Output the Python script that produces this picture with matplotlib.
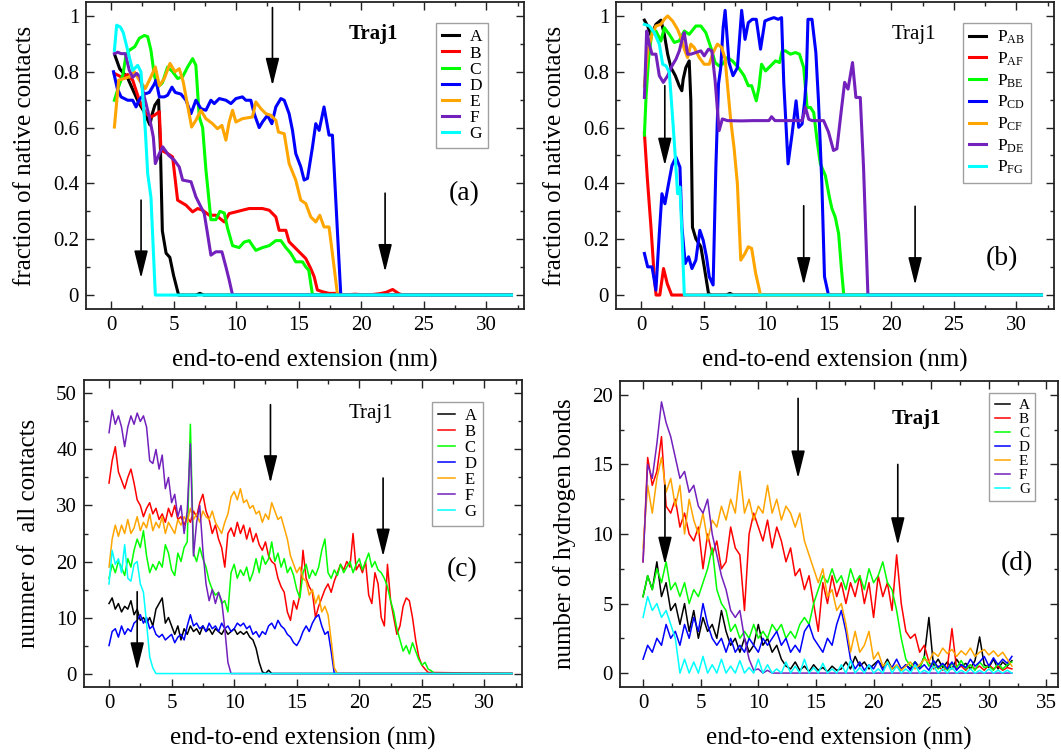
import numpy as np
import matplotlib
matplotlib.use('Agg')
import matplotlib.pyplot as plt
from matplotlib.ticker import MultipleLocator, FuncFormatter

plt.rcParams['font.family'] = ['Liberation Serif', 'DejaVu Serif']
plt.rcParams['mathtext.fontset'] = 'custom'
plt.rcParams['mathtext.rm'] = 'Liberation Serif'
plt.rcParams['mathtext.it'] = 'Liberation Serif:italic'

COLORS = ['#000000', '#ff0000', '#00ff00', '#0000ff', '#ffa500', '#7221bc', '#00ffff']
LABELS_SEG = ['A', 'B', 'C', 'D', 'E', 'F', 'G']
LABELS_PAIR = [r'$\mathrm{P_{AB}}$', r'$\mathrm{P_{AF}}$', r'$\mathrm{P_{BE}}$', r'$\mathrm{P_{CD}}$',
               r'$\mathrm{P_{CF}}$', r'$\mathrm{P_{DE}}$', r'$\mathrm{P_{FG}}$']

# ---------------- panel (a): fraction of native contacts per segment ----------------
A_a = [(0.3, 0.86), (0.7, 0.81), (1.3, 0.78), (1.8, 0.73), (2.2, 0.69), (2.6, 0.66), (2.9, 0.63),
       (3.1, 0.61), (3.3, 0.65), (3.5, 0.68), (3.8, 0.70), (3.95, 0.52), (4.1, 0.23), (4.4, 0.15),
       (4.7, 0.135), (5.0, 0.07), (5.4, 0.0), (6.8, 0.0), (7.1, 0.006), (7.4, 0.0), (32, 0.0)]
B_a = [(0.27, 0.794), (0.8, 0.782), (1.33, 0.79), (1.73, 0.77), (2.26, 0.698), (2.79, 0.65),
       (3.19, 0.638), (3.46, 0.644), (3.86, 0.657), (3.99, 0.519), (4.52, 0.507), (4.92, 0.495),
       (5.32, 0.34), (5.99, 0.322), (6.52, 0.298), (6.92, 0.31), (7.32, 0.304), (7.85, 0.286),
       (8.38, 0.286), (9.05, 0.262), (9.44, 0.292), (9.98, 0.298), (10.5, 0.304), (11.04, 0.31),
       (11.57, 0.31), (12.1, 0.31), (12.64, 0.304), (13.17, 0.28), (13.43, 0.232), (13.97, 0.232),
       (14.23, 0.191), (14.76, 0.167), (15.16, 0.149), (15.56, 0.131), (15.96, 0.095), (16.23, 0.066),
       (16.49, 0.018), (16.89, 0.012), (17.42, 0.006), (17.96, 0.006), (18.49, 0.0), (19.5, 0.003),
       (20.5, 0.0), (21.5, 0.005), (22.0, 0.01), (22.5, 0.02), (23.0, 0.005), (23.3, 0.0), (32, 0.0)]
C_a = [(0.27, 0.698), (0.61, 0.747), (0.95, 0.79), (1.2, 0.86), (1.46, 0.877), (1.9, 0.89),
       (2.26, 0.92), (2.66, 0.93), (2.93, 0.926), (3.19, 0.877), (3.46, 0.787), (3.72, 0.745),
       (4.1, 0.76), (4.52, 0.817), (4.92, 0.8), (5.32, 0.776), (5.72, 0.782), (6.12, 0.817),
       (6.52, 0.847), (6.78, 0.823), (7.05, 0.638), (7.32, 0.6), (7.58, 0.45), (7.98, 0.27),
       (8.38, 0.27), (8.7, 0.3), (9.05, 0.294), (9.31, 0.24), (9.71, 0.177), (10.24, 0.17),
       (10.64, 0.19), (11.04, 0.195), (11.57, 0.16), (12.1, 0.17), (12.64, 0.177), (13.17, 0.195),
       (13.57, 0.195), (13.97, 0.17), (14.37, 0.149), (14.76, 0.119), (15.3, 0.119), (15.56, 0.101),
       (15.8, 0.089), (16.1, 0.0), (32, 0.0)]
D_a = [(0.2, 0.80), (0.5, 0.74), (0.8, 0.71), (1.33, 0.698), (1.73, 0.698), (2.0, 0.674), (2.26, 0.70),
       (2.66, 0.72), (3.06, 0.726), (3.46, 0.756), (3.59, 0.77), (3.86, 0.71), (4.26, 0.71), (4.52, 0.716),
       (4.87, 0.745), (5.13, 0.726), (5.59, 0.72), (5.99, 0.698), (6.39, 0.65), (6.78, 0.698),
       (7.18, 0.668), (7.58, 0.662), (7.98, 0.698), (8.25, 0.686), (8.65, 0.704), (9.18, 0.698),
       (9.58, 0.686), (9.98, 0.704), (10.5, 0.71), (10.77, 0.698), (11.17, 0.698), (11.44, 0.65),
       (11.84, 0.6), (12.1, 0.62), (12.5, 0.644), (12.85, 0.614), (13.17, 0.674), (13.57, 0.704),
       (13.84, 0.698), (14.23, 0.65), (14.5, 0.59), (14.76, 0.507), (15.16, 0.46), (15.43, 0.412),
       (15.7, 0.418), (16.1, 0.531), (16.36, 0.614), (16.63, 0.59), (17.02, 0.674), (17.42, 0.573),
       (17.69, 0.573), (18.1, 0.22), (18.36, 0.0), (32, 0.0)]
E_a = [(0.27, 0.602), (0.61, 0.77), (1.06, 0.776), (1.46, 0.782), (1.86, 0.8), (2.26, 0.77),
       (2.74, 0.74), (3.19, 0.782), (3.54, 0.817), (3.86, 0.75), (4.26, 0.776), (4.71, 0.83),
       (5.11, 0.8), (5.45, 0.811), (5.77, 0.764), (6.04, 0.698), (6.44, 0.602), (6.78, 0.626),
       (7.18, 0.662), (7.58, 0.632), (8.11, 0.614), (8.51, 0.596), (8.86, 0.608), (9.18, 0.555),
       (9.44, 0.62), (9.71, 0.662), (9.98, 0.62), (10.5, 0.632), (11.04, 0.636), (11.3, 0.638),
       (11.57, 0.692), (11.97, 0.668), (12.37, 0.65), (12.77, 0.644), (13.17, 0.626), (13.38, 0.584),
       (13.84, 0.578), (14.23, 0.471), (14.76, 0.412), (15.16, 0.34), (15.56, 0.328), (15.96, 0.28),
       (16.36, 0.262), (16.68, 0.286), (17.02, 0.244), (17.42, 0.244), (17.69, 0.149), (18.1, 0.0),
       (32, 0.0)]
F_a = [(0.27, 0.865), (0.53, 0.87), (0.8, 0.865), (1.14, 0.865), (1.46, 0.805), (1.73, 0.78),
       (2.05, 0.794), (2.31, 0.782), (2.66, 0.71), (3.06, 0.638), (3.38, 0.566), (3.54, 0.471),
       (3.86, 0.507), (4.13, 0.531), (4.6, 0.501), (5.06, 0.483), (5.45, 0.459), (5.72, 0.412),
       (6.39, 0.406), (6.78, 0.352), (7.18, 0.316), (7.45, 0.292), (7.71, 0.22), (7.98, 0.143),
       (8.38, 0.155), (8.86, 0.155), (9.18, 0.101), (9.44, 0.054), (9.71, 0.0), (32, 0.0)]
G_a = [(0.27, 0.877), (0.45, 0.967), (0.75, 0.96), (0.98, 0.94), (1.33, 0.877), (1.73, 0.805),
       (2.13, 0.823), (2.39, 0.8), (2.74, 0.59), (2.93, 0.435), (3.19, 0.35), (3.54, 0.0), (32, 0.0)]

# ---------------- panel (b): fraction of native contacts per segment pair ----------------
PAB = [(0.27, 0.985), (0.53, 0.964), (0.8, 0.93), (1.19, 0.97), (1.59, 0.985), (1.86, 0.934),
       (2.13, 0.863), (2.39, 0.815), (2.74, 0.786), (3.05, 0.75), (3.26, 0.732), (3.37, 0.774),
       (3.58, 0.815), (3.85, 0.839), (3.98, 0.696), (4.11, 0.243), (4.38, 0.202), (4.78, 0.173),
       (5.05, 0.101), (5.39, 0.006), (5.6, 0.0), (6.8, 0.0), (7.1, 0.006), (7.4, 0.0), (32, 0.0)]
PAF = [(0.27, 0.58), (0.5, 0.42), (0.8, 0.24), (1.05, 0.07), (1.2, 0.0), (1.5, 0.0), (1.8, 0.095),
       (2.1, 0.04), (2.45, 0.0), (32, 0.0)]
PBE = [(0.27, 0.573), (0.4, 0.71), (0.61, 0.85), (0.88, 0.946), (1.19, 0.946), (1.59, 0.91),
       (1.86, 0.958), (2.26, 0.934), (2.66, 0.905), (3.06, 0.911), (3.46, 0.946), (3.85, 0.934),
       (4.38, 0.964), (4.78, 0.964), (5.18, 0.94), (5.58, 0.887), (5.92, 0.833), (6.24, 0.821),
       (6.5, 0.827), (6.9, 0.851), (7.3, 0.839), (7.78, 0.815), (8.23, 0.786), (8.57, 0.75),
       (8.84, 0.75), (9.21, 0.696), (9.42, 0.744), (9.63, 0.827), (9.95, 0.803), (10.35, 0.821),
       (10.75, 0.839), (11.07, 0.833), (11.28, 0.875), (11.54, 0.875), (11.94, 0.863), (12.34, 0.869),
       (12.66, 0.863), (13.0, 0.815), (13.27, 0.672), (13.54, 0.672), (13.8, 0.654), (14.07, 0.553),
       (14.33, 0.47), (14.73, 0.428), (15.05, 0.351), (15.26, 0.309), (15.52, 0.279), (15.79, 0.22),
       (16.0, 0.101), (16.2, 0.0), (32, 0.0)]
PCD = [(0.27, 0.149), (0.53, 0.101), (0.88, 0.101), (1.19, 0.018), (1.46, 0.22), (1.67, 0.363),
       (1.91, 0.327), (2.2, 0.399), (2.47, 0.464), (2.79, 0.494), (3.11, 0.458), (3.27, 0.243),
       (3.53, 0.113), (3.8, 0.137), (4.07, 0.095), (4.38, 0.125), (4.7, 0.232), (4.97, 0.196),
       (5.23, 0.137), (5.45, 0.066), (5.76, 0.036), (5.98, 0.458), (6.19, 0.756), (6.37, 0.815),
       (6.56, 0.958), (6.72, 1.02), (7.03, 0.833), (7.35, 0.786), (7.7, 0.815), (8.04, 1.02),
       (8.31, 0.916), (8.57, 0.976), (8.89, 0.988), (9.21, 0.988), (9.55, 0.881), (9.9, 0.982),
       (10.22, 0.988), (10.62, 0.994), (10.96, 0.988), (11.23, 0.994), (11.41, 0.756), (11.75, 0.47),
       (12.07, 0.577), (12.39, 0.696), (12.6, 0.601), (12.87, 0.613), (13.08, 0.696), (13.21, 0.78),
       (13.34, 0.988), (13.66, 0.988), (13.97, 0.869), (14.18, 0.696), (14.45, 0.399), (14.66, 0.066),
       (14.98, 0.0), (32, 0.0)]
PCF = [(0.27, 0.75), (0.53, 0.875), (0.88, 0.934), (1.19, 0.964), (1.59, 0.97), (1.86, 0.988),
       (2.13, 1.0), (2.52, 0.982), (2.92, 0.952), (3.19, 0.922), (3.46, 0.881), (3.72, 0.851),
       (3.98, 0.899), (4.25, 0.887), (4.65, 0.851), (5.05, 0.827), (5.45, 0.827), (5.76, 0.869),
       (6.1, 0.899), (6.45, 0.887), (6.72, 0.845), (6.9, 0.756), (7.17, 0.625), (7.43, 0.529),
       (7.7, 0.399), (7.97, 0.125), (8.31, 0.149), (8.57, 0.173), (8.84, 0.167), (9.16, 0.078),
       (9.55, 0.0), (32, 0.0)]
PDE = [(0.27, 0.708), (0.45, 0.946), (0.65, 0.90), (0.88, 0.863), (1.19, 0.863), (1.46, 0.786),
       (1.78, 0.762), (2.13, 0.786), (2.47, 0.821), (2.79, 0.845), (3.06, 0.875), (3.32, 0.922),
       (3.45, 0.94), (3.72, 0.863), (3.98, 0.863), (4.38, 0.869), (4.78, 0.875), (5.05, 0.857),
       (5.39, 0.881), (5.66, 0.875), (5.92, 0.768), (6.24, 0.589), (6.5, 0.631), (6.9, 0.625),
       (8.0, 0.624), (9.0, 0.625), (10.22, 0.625), (10.43, 0.639), (10.7, 0.625), (11.8, 0.625),
       (12.87, 0.625), (13.14, 0.672), (13.4, 0.63), (13.66, 0.625), (14.59, 0.625), (14.98, 0.584),
       (15.38, 0.518), (15.65, 0.524), (16.0, 0.66), (16.27, 0.762), (16.54, 0.738), (16.9, 0.833),
       (17.17, 0.708), (17.52, 0.708), (17.78, 0.458), (18.13, 0.0), (32, 0.0)]
PFG = [(0.27, 0.97), (0.66, 0.964), (1.06, 0.94), (1.46, 0.899), (1.73, 0.827), (2.0, 0.821),
       (2.26, 0.798), (2.52, 0.637), (2.74, 0.494), (2.92, 0.363), (3.11, 0.387), (3.27, 0.22),
       (3.46, 0.0), (32, 0.0)]

# ---------------- panel (c): number of all contacts (sampled every 0.25 nm) ----------------
STEP_C = 0.25
A_c = [12.5, 13.5, 11.5, 12.5, 11, 12, 11.5, 13,
       10.5, 11.5, 9.5, 10, 9, 10, 8.5, 11.5,
       12.5, 13.5, 9, 10, 8.5, 7, 8.5, 6,
       8, 7, 8.5, 7.5, 8, 7, 8.5, 7.5,
       8, 7, 8, 7.5, 7, 8, 7, 7.5,
       8, 7, 7.5, 7, 7.5, 6.5, 6, 4.5,
       2, 0.3]
A_c_tail = [(12.5, 0), (12.75, 0.6), (13.0, 0), (32.2, 0)]
B_c = [34, 38, 40.5, 36, 34.5, 33, 35, 36.5,
       34, 31, 30, 28, 29.5, 30.5, 28.5, 29.5,
       27.5, 28.5, 27, 29.5, 28, 30, 27.5, 28,
       26.5, 28, 27, 29, 28, 30.5, 32, 29,
       27.5, 25, 26.5, 24, 22.5, 19, 25, 26,
       24.5, 27, 25, 26.5, 24, 26, 23.5, 25,
       23, 22, 23.5, 21, 20, 19.5, 17, 15.5,
       14.5, 11, 9.5, 13, 11.5, 14, 22, 17,
       15.5, 14.5, 10, 12, 13.5, 15, 16, 14.5,
       16.5, 18, 19.5, 18.5, 20, 19, 25, 18.5,
       19.5, 18, 20, 14, 12.5, 18, 16, 10,
       8.5, 19.5, 13, 10, 7, 8.5, 12, 13.5,
       13, 10, 6, 3, 1.5, 0.8, 0.2]
C_c = [17, 19.5, 18, 20, 19, 17.5, 20.5, 19,
       22, 24, 22.5, 25.5, 21, 18, 19.5, 18.5,
       20, 19, 23, 21.5, 18.5, 17.5, 21.5, 20,
       22.5, 23.5, 44.5, 21.5, 20, 22.5, 20.5, 19,
       16.5, 15, 14, 14.5, 12.5, 13, 11, 18,
       19.5, 17, 18.5, 17.5, 19, 16.5, 18, 20.5,
       18, 21, 19.5, 20.5, 23.5, 20, 21.5, 19,
       20.5, 18, 19, 17.5, 15, 13.5, 18, 19.5,
       17, 18.5, 17.5, 19, 22, 24, 18, 17,
       18.5, 17.5, 19.5, 18, 19, 20, 18, 19.5,
       20.5, 18.5, 20, 21.5, 19, 20, 18.5, 18,
       17, 15.5, 13, 11, 8, 6, 4, 5,
       3.5, 5.5, 4, 2.5, 1.5, 2, 0.8, 0.5, 0]
D_c = [5, 7.5, 8, 6.5, 8.5, 7, 8, 7.5,
       9, 9.5, 10.5, 9, 10, 8, 8.5, 7,
       6.5, 7, 6, 6.5, 7, 5.5, 6.5, 7,
       6, 8.5, 10.5, 8.5, 9, 8, 8.5, 7.5,
       9, 8, 8.5, 7.5, 9, 8, 8.5, 7.5,
       8, 9, 8.5, 9, 8, 8.5, 7, 7.5,
       6.5, 7.5, 7, 8.5, 9, 8, 9.5, 8.5,
       8, 7, 6.5, 5.5, 5, 6, 7.5, 8.5,
       7.5, 9, 10, 10.5, 8.5, 7, 7.5, 4,
       0]
E_c = [19, 24, 26.5, 24.5, 26.5, 25, 27.5, 25,
       26, 28, 25.5, 27, 26, 28.5, 25.5, 27,
       26, 28, 25, 27, 26, 25, 27.5, 26.5,
       28, 27, 29.5, 27.5, 28.5, 27, 29, 28,
       27.5, 29, 27, 26, 25, 27, 28.5, 31.5,
       32.5, 31, 33, 30.5, 31, 29.5, 30, 28.5,
       29, 27, 28.5, 27.5, 30.5, 29, 27.5, 28,
       26, 24, 21, 19.5, 18, 19, 17, 16.5,
       14, 15, 12.5, 14, 11, 12, 10.5, 6,
       1, 0]
F_c = [43, 47, 44.5, 46, 44, 40.5, 44, 46,
       44.5, 46.5, 45, 46, 44, 38, 37.5, 40,
       36.5, 39, 33, 35, 30.5, 32, 28, 30,
       25, 29, 41, 21, 27, 30, 22, 16,
       13, 15, 12.5, 14.5, 13, 8, 2, 0]
G_c = [16, 22, 19.5, 20.5, 18, 23, 17, 16.5,
       19.5, 20, 16, 14.5, 9, 3, 1, 0]
END_C = [(32.2, 0)]

# ---------------- panel (d): number of hydrogen bonds (sampled every 0.4 nm) ----------------
STEP_D = 0.4
A_d = [5.5, 7, 6, 8, 5.5, 6.5, 4.5, 5, 3.5, 5,
       3, 4.5, 2.5, 4, 3, 3.5, 2.5, 4.5, 3, 2,
       2.5, 1.5, 2.5, 1.5, 2, 3.5, 2, 2.5, 1.5, 2,
       1, 0.5, 0.3, 0.8, 0.2, 0.5, 0.1, 0.6, 0.2, 0.4,
       0.1, 0.5, 0.2, 0.3, 0.8, 0.3, 1.2, 0.5, 0.8, 0.3,
       0.6, 0.9, 0.4, 1.0, 0.3, 0.5, 0.2, 0.6, 0.3, 0.8,
       0.4, 1.2, 4.0, 0.5, 1.0, 0.4, 0.8, 0.3, 1.0, 0.5,
       0.7, 0.3, 0.9, 2.6, 0.6, 0.4, 1.0, 0.3, 0.8, 0.5,
       0.9]
B_d = [8, 15.5, 13.5, 14.5, 17, 12, 11.5, 12.5, 10.5, 11.5,
       10, 9.5, 10.5, 7.5, 10, 8.5, 9.5, 7.5, 8, 10.5,
       9, 8.5, 4.5, 10, 11.5, 10.5, 9.5, 11, 9, 10.5,
       9.5, 8, 9, 7, 7.5, 6, 7, 5, 3, 6.5,
       5, 7, 5.5, 6.5, 5, 6.5, 5.5, 7, 5, 6.5,
       4, 7, 5.5, 6.5, 4.5, 8.5, 5, 3, 2.5, 2.8,
       1.5, 2, 0.8, 0.3, 0.5, 0.2, 0.4, 3.2, 0.3, 0.5,
       0.2, 0.6, 0.3, 0.5, 0.2, 0.6, 0.3, 0.5, 0.2, 0.4,
       0.3]
C_d = [5.5, 7, 6, 7.5, 6.5, 8, 6, 6.5, 5.5, 6.5,
       5, 6, 5.5, 6.5, 7.5, 9, 6, 5, 4.5, 3,
       3.5, 2.5, 3, 2.5, 3.5, 2.5, 3, 2.5, 3.5, 3,
       3.5, 2.5, 3, 2.5, 3.5, 4, 3.5, 5, 6, 7,
       6.5, 7.5, 6.5, 7, 6, 7.5, 6.5, 7, 6, 7.5,
       6.5, 7, 8, 6.5, 6, 4.5, 2.5, 1, 0.5, 0.8,
       0.3, 1.2, 0.5, 0.8, 0.3, 0.6, 0.2, 0.7, 0.4, 0.9,
       0.3, 0.6, 0.2, 0.8, 0.4, 0.5, 0.2, 0.7, 0.3, 0.6,
       0.8]
D_d = [1, 2, 1.5, 2.5, 2, 3.5, 2.5, 3, 2, 3.5,
       2.5, 4, 3, 5, 3.5, 2.5, 2, 2.5, 1.5, 2.5,
       1.5, 2, 1.5, 2.5, 2, 1.5, 2.5, 2, 2.5, 3,
       2, 2.5, 1.5, 2, 1.5, 3, 3.5, 2.5, 2, 1.5,
       2.5, 2, 3.5, 4.5, 3, 1, 0.3, 0.8, 0.2, 0.6,
       0.3, 0.9, 0.2, 0.7, 0.4, 1.0, 0.3, 0.6, 0.2, 0.8,
       0.3, 0.6, 0.2, 0.9, 0.4, 0.7, 0.3, 0.8, 0.2, 0.6,
       0.4, 1.0, 0.5, 0.8, 1.2, 0.5, 1.1, 0.6, 1.0, 0.7,
       1.2]
E_d = [9, 13.5, 11.5, 14, 15.5, 13, 14, 12, 13.5, 10,
       12.5, 11, 10, 11.5, 9.5, 11, 10.5, 12, 11, 12.5,
       11.5, 14.5, 11.5, 12.5, 11, 12, 11.5, 13.5, 11.5, 12.5,
       11, 12, 11.5, 10.5, 11.5, 9.5, 8.5, 7.5, 6.5, 7.5,
       5.5, 6, 4.5, 5, 3.5, 1.5, 3, 1.5, 2, 3,
       1, 1.5, 0.5, 0.8, 0.3, 0.6, 0.2, 0.5, 0.8, 0.3,
       0.6, 1.0, 0.8, 1.5, 1.2, 1.8, 1.4, 1.7, 1.2, 1.6,
       1.3, 1.8, 1.2, 1.5, 1.7, 1.3, 1.6, 1.2, 1.5, 1.0,
       0.5]
F_d = [8, 15, 14, 16.5, 19.5, 18, 17, 15.5, 14, 14.5,
       13, 13.5, 12, 11.5, 12.5, 10, 8.5, 7, 6, 4.5,
       4, 4.5, 2.5, 1, 0.2, 0.3, 0, 0.2, 0]
F_d_tail = [(32.0, 0)]
G_d = [4, 5.5, 4.5, 5, 4, 4.5, 3.5, 2.5, 0, 1.0,
       0, 0.8, 0, 1.2, 0, 0.6, 0, 1.0, 0, 0.5,
       0, 0.9, 0, 0.4, 0, 1.0, 0, 0.6, 0, 0.3,
       0, 0.8, 0, 0.5, 0, 1.0, 0, 0.4, 0, 0.7,
       0, 0.3, 0, 0.6, 0, 0.9, 0, 0.4, 0, 0.6,
       0, 0.3, 0, 0.8, 0, 0.5, 0, 0.3, 0, 0.6,
       0, 0.2, 0, 0.5, 0, 0.3, 0, 0.4, 0, 0.2,
       0, 0.3, 0, 0.2, 0, 0.3, 0, 0.2, 0, 0.2,
       0]

# arrows: (x, y_start, y_tip)
ARROWS_A = [(2.4, 0.34, 0.06), (12.9, 1.03, 0.75), (21.9, 0.365, 0.083)]
ARROWS_B = [(1.9, 0.75, 0.464), (13.0, 0.32, 0.036), (21.9, 0.318, 0.036)]
ARROWS_C = [(2.25, 14.6, 0.6), (12.9, 48.0, 34.0), (21.9, 34.9, 20.9)]
ARROWS_D = [(1.9, 13.5, 7.8), (13.45, 19.75, 14.0), (22.1, 15.0, 9.2)]

XLABEL = 'end-to-end extension (nm)'


def pairs(p):
    a = np.array(p, dtype=float)
    return a[:, 0], a[:, 1]


def sampled(vals, step, tail=()):
    x = np.arange(len(vals)) * step
    y = np.array(vals, dtype=float)
    if len(tail):
        t = np.array(tail, dtype=float)
        x = np.concatenate([x, t[:, 0]])
        y = np.concatenate([y, t[:, 1]])
    return x, y


def style(ax, xlim, ylim, ymaj, ymin, ylabel):
    ax.set_xlim(*xlim)
    ax.set_ylim(*ylim)
    ax.xaxis.set_major_locator(MultipleLocator(5))
    ax.xaxis.set_minor_locator(MultipleLocator(2.5))
    ax.yaxis.set_major_locator(MultipleLocator(ymaj))
    ax.yaxis.set_minor_locator(MultipleLocator(ymin))
    ax.yaxis.set_major_formatter(FuncFormatter(lambda v, p: '%g' % round(v, 3)))
    ax.tick_params(which='both', direction='in', top=True, right=True, labelsize=15,
                   width=1.0, color='#222222')
    ax.tick_params(which='major', length=6, pad=5)
    ax.tick_params(which='minor', length=3)
    for s in ax.spines.values():
        s.set_linewidth(1.3)
        s.set_color('#222222')
    ax.set_xlabel(XLABEL, fontsize=18, labelpad=10)
    ax.set_ylabel(ylabel, fontsize=18, labelpad=12)


def arrows(ax, arr):
    for x, y0, y1 in arr:
        ax.annotate('', xy=(x, y1), xytext=(x, y0),
                    arrowprops=dict(arrowstyle='-|>,head_length=0.85,head_width=0.21',
                                    mutation_scale=20, color='black', lw=1.2,
                                    shrinkA=0, shrinkB=0))


def legend(ax, anchor, fs, spacing, hl):
    leg = ax.legend(loc='upper left', bbox_to_anchor=anchor, fontsize=fs, frameon=True,
                    fancybox=False, borderaxespad=0, borderpad=0.35, handlelength=hl,
                    handletextpad=0.6, labelspacing=spacing)
    leg.get_frame().set_edgecolor('#888888')
    leg.get_frame().set_linewidth(1.0)
    return leg


W, H = 1061, 754
fig = plt.figure(figsize=(W / 100, H / 100), dpi=100)


def axes_px(left, top, right, bottom):
    return fig.add_axes([left / W, 1 - bottom / H, (right - left) / W, (bottom - top) / H])


ax_a = axes_px(86, 2, 524, 309)
ax_b = axes_px(616, 2, 1054, 309)
ax_c = axes_px(84, 380, 522, 687)
ax_d = axes_px(620, 381, 1058, 687)

# (a)
for data, c, lab in zip([A_a, B_a, C_a, D_a, E_a, F_a, G_a], COLORS, LABELS_SEG):
    x, y = pairs(data)
    ax_a.plot(x, y, color=c, lw=2.2, label=lab)
style(ax_a, (-2, 33), (-0.05, 1.05), 0.2, 0.1, 'fraction of native contacts')
arrows(ax_a, ARROWS_A)
ax_a.text(21.0, 0.935, 'Traj1', fontsize=15, fontweight='bold', ha='center', va='center')
ax_a.text(28.2, 0.365, '(a)', fontsize=20, ha='center', va='center')
legend(ax_a, (0.798, 0.931), 12.5, 0.0, 1.0)

# (b)
for data, c, lab in zip([PAB, PAF, PBE, PCD, PCF, PDE, PFG], COLORS, LABELS_PAIR):
    x, y = pairs(data)
    ax_b.plot(x, y, color=c, lw=2.2, label=lab)
style(ax_b, (-2, 33), (-0.05, 1.05), 0.2, 0.1, 'fraction of native contacts')
arrows(ax_b, ARROWS_B)
ax_b.text(21.8, 0.935, 'Traj1', fontsize=15, ha='center', va='center')
ax_b.text(28.8, 0.13, '(b)', fontsize=20, ha='center', va='center')
legend(ax_b, (0.792, 0.933), 12.5, 0.25, 1.0)

# (c)
series_c = [sampled(A_c, STEP_C, A_c_tail), sampled(B_c, STEP_C, END_C), sampled(C_c, STEP_C, END_C),
            sampled(D_c, STEP_C, END_C), sampled(E_c, STEP_C, END_C), sampled(F_c, STEP_C, END_C),
            sampled(G_c, STEP_C, END_C)]
for (x, y), c, lab in zip(series_c, COLORS, LABELS_SEG):
    ax_c.plot(x, y, color=c, lw=1.1, label=lab)
style(ax_c, (-2, 33), (-2.4, 52.4), 10, 5, 'numner of  all contacts')
arrows(ax_c, ARROWS_C)
ax_c.text(20.9, 46.5, 'Traj1', fontsize=15, ha='center', va='center')
ax_c.text(28.2, 18.5, '(c)', fontsize=20, ha='center', va='center')
legend(ax_c, (0.795, 0.928), 12, 0.0, 1.0)

# (d)
series_d = [sampled(A_d, STEP_D), sampled(B_d, STEP_D), sampled(C_d, STEP_D), sampled(D_d, STEP_D),
            sampled(E_d, STEP_D), sampled(F_d, STEP_D, F_d_tail), sampled(G_d, STEP_D)]
for (x, y), c, lab in zip(series_d, COLORS, LABELS_SEG):
    ax_d.plot(x, y, color=c, lw=1.1, label=lab)
style(ax_d, (-2, 36), (-1, 21), 5, 2.5, 'number of hydrogen bonds')
arrows(ax_d, ARROWS_D)
ax_d.text(23.7, 18.3, 'Traj1', fontsize=15, fontweight='bold', ha='center', va='center')
ax_d.text(32.4, 7.9, '(d)', fontsize=20, ha='center', va='center')
legend(ax_d, (0.843, 0.961), 11, 0.02, 1.0)

fig.savefig('out.png', dpi=100)
